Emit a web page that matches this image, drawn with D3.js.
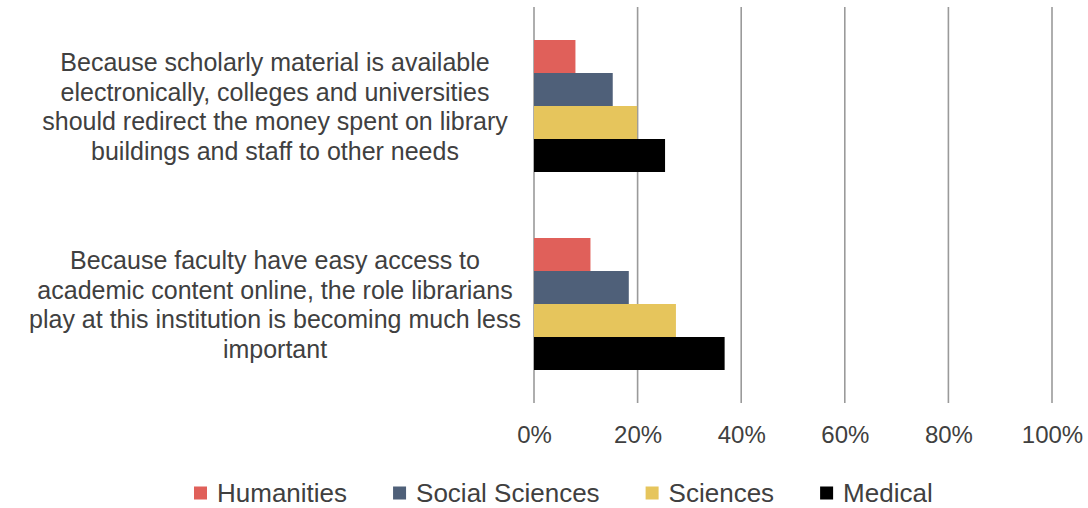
<!DOCTYPE html>
<html>
<head>
<meta charset="utf-8">
<script src="https://cdn.jsdelivr.net/npm/d3@7"></script>
<style>
  html, body { margin: 0; padding: 0; background: #fff; }
  svg { display: block; }
  text { font-family: "Liberation Sans", Arial, Helvetica, sans-serif; fill: #404040; }
</style>
</head>
<body>
<svg id="chart" width="1088" height="508"></svg>
<script>
// ---- Data ----
const categoryLines = [
  ["Because scholarly material is available",
   "electronically, colleges and universities",
   "should redirect the money spent on library",
   "buildings and staff to other needs"],
  ["Because faculty have easy access to",
   "academic content online, the role librarians",
   "play at this institution is becoming much less",
   "important"]
];
const categories = categoryLines.map(l => l.join(" "));
const seriesNames = ["Humanities", "Social Sciences", "Sciences", "Medical"];
const seriesColors = ["#E0605A", "#4F6079", "#E6C55C", "#000000"];
const humanities     = [0.080, 0.109];
const socialSciences = [0.152, 0.183];
const sciences       = [0.199, 0.274];
const medical        = [0.253, 0.368];
const seriesValues = [humanities, socialSciences, sciences, medical];
const tickValues = [0, 0.2, 0.4, 0.6, 0.8, 1.0];
const tickLabels = ["0%", "20%", "40%", "60%", "80%", "100%"];

// ---- Layout ----
const svg = d3.select("#chart");
const plotTop = 7, plotBottom = 403;
const x = d3.scaleLinear().domain([0, 1]).range([534, 1052]);
const y = d3.scaleBand().domain(categories).range([plotTop, plotBottom])
  .paddingInner(1/3).paddingOuter(1/6);
const ys = d3.scaleBand().domain(seriesNames).range([0, y.bandwidth()]).padding(0);

// gridlines
svg.append("g").selectAll("line").data(tickValues).join("line")
  .attr("x1", d => x(d)).attr("x2", d => x(d))
  .attr("y1", plotTop).attr("y2", plotBottom)
  .attr("stroke", "#9a9a9a").attr("stroke-width", 1.6);

// axis tick labels via d3 axis
const axisG = svg.append("g").attr("transform", `translate(0,${plotBottom})`)
  .call(d3.axisBottom(x).tickValues(tickValues).tickFormat((d, i) => tickLabels[i]).tickSize(0).tickPadding(0));
axisG.select(".domain").remove();
axisG.selectAll("text")
  .attr("y", 40).attr("dy", null)
  .style("font-family", '"Liberation Sans", Arial, sans-serif')
  .style("font-size", "24px").attr("fill", "#404040");

// bars
categories.forEach((cat, ci) => {
  const g = svg.append("g").attr("transform", `translate(0,${y(cat)})`);
  g.selectAll("rect").data(seriesNames.map((s, si) => ({ s, v: seriesValues[si][ci], c: seriesColors[si] })))
    .join("rect")
    .attr("x", x(0))
    .attr("y", d => ys(d.s))
    .attr("width", d => x(d.v) - x(0))
    .attr("height", ys.bandwidth())
    .attr("fill", d => d.c);
});

// category labels
const lineH = 29.5;
categories.forEach((cat, ci) => {
  const lines = categoryLines[ci];
  const cy = y(cat) + y.bandwidth() / 2;
  const t = svg.append("text").attr("text-anchor", "middle").style("font-size", "25px");
  lines.forEach((ln, i) => {
    t.append("tspan").attr("x", 275)
      .attr("y", cy + 9.5 + (i - (lines.length - 1) / 2) * lineH)
      .text(ln);
  });
});

// legend
const legend = svg.append("g");
let lx = 194;
const legendBaseline = 502;
seriesNames.forEach((s, i) => {
  legend.append("rect").attr("x", lx).attr("y", 486.5).attr("width", 13).attr("height", 13)
    .attr("fill", seriesColors[i]);
  const t = legend.append("text").attr("x", lx + 23).attr("y", legendBaseline)
    .style("font-size", "26px").text(s);
  const w = t.node().getComputedTextLength();
  lx = lx + 23 + w + 46;
});
</script>
</body>
</html>
